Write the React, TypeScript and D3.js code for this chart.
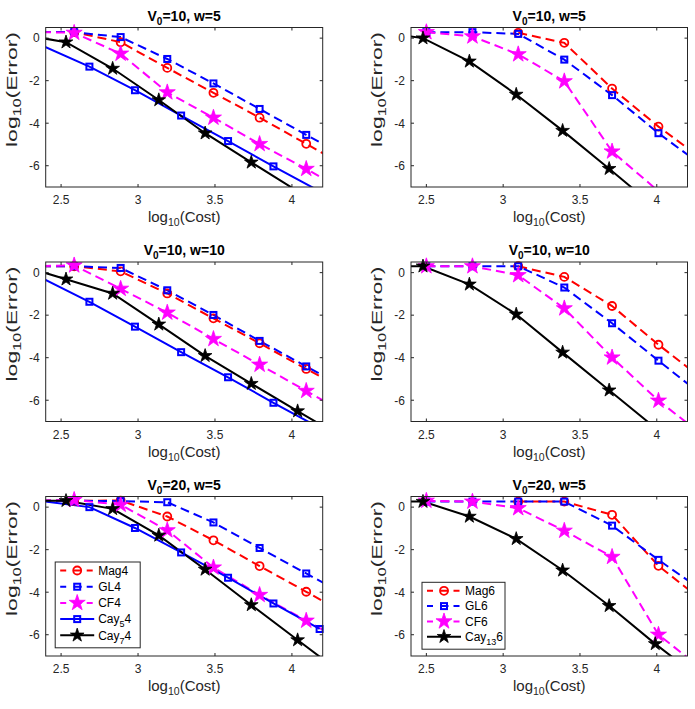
import * as d3 from "d3";

// log10(cost) positions for each integrator family
const costOrder4 = [2.285, 2.585, 2.887, 3.19, 3.49, 3.79, 4.093, 4.395];
const costCay5 = [2.383, 2.684, 2.98, 3.28, 3.585, 3.88, 4.18];
const costCay7 = [2.23, 2.532, 2.835, 3.135, 3.436, 3.736, 4.037, 4.34];
const costOrder6 = [2.5, 2.8, 3.098, 3.398, 3.709, 4.011, 4.31];
const costMag6 = [3.098, 3.398, 3.709, 4.011, 4.31];
const costCay13 = [2.178, 2.478, 2.78, 3.085, 3.387, 3.69, 3.99, 4.29];

// log10(error), V0=10, w=5
const mag4A = [0.3, 0.28, -0.19, -1.4, -2.57, -3.74, -4.97, -6.2];
const gl4A = [0.3, 0.28, 0.05, -0.98, -2.13, -3.33, -4.55, -5.75];
const cf4A = [0.3, 0.25, -0.73, -2.55, -3.74, -4.98, -6.15, -7.4];
const cay54A = [-0.37, -1.34, -2.45, -3.64, -4.84, -6.03, -7.2];
const cay74A = [0.18, -0.19, -1.43, -2.91, -4.47, -5.84, -7.2, -8.6];
const mag6A = [0.25, -0.22, -2.37, -4.16, -5.76];
const gl6A = [0.28, 0.28, 0.2, -1.01, -2.68, -4.47, -6.07];
const cf6A = [0.28, 0.08, -0.76, -2.03, -5.33, -7.2];
const cay136A = [0.3, 0.0, -1.09, -2.65, -4.35, -6.14, -7.95];

// log10(error), V0=10, w=10
const mag4B = [0.3, 0.3, 0.06, -0.98, -2.15, -3.32, -4.53, -5.7];
const gl4B = [0.3, 0.3, 0.22, -0.83, -1.99, -3.21, -4.41, -5.6];
const cf4B = [0.3, 0.34, -0.76, -1.88, -3.12, -4.33, -5.56, -6.8];
const cay54B = [-0.28, -1.37, -2.54, -3.74, -4.92, -6.12, -7.3];
const cay74B = [0.35, -0.31, -0.98, -2.43, -3.91, -5.22, -6.51, -7.8];
const mag6B = [0.3, -0.2, -1.57, -3.39, -5.07];
const gl6B = [0.3, 0.3, 0.3, -0.7, -2.38, -4.14, -5.85];
const cf6B = [0.3, 0.3, -0.12, -1.68, -3.99, -6.02, -7.7];
const cay136B = [0.3, 0.3, -0.55, -1.96, -3.75, -5.53, -7.3];

// log10(error), V0=20, w=5
const mag4C = [0.3, 0.3, 0.31, -0.44, -1.56, -2.77, -3.98, -5.2];
const gl4C = [0.3, 0.3, 0.28, 0.23, -0.72, -1.92, -3.12, -4.32];
const cf4C = [0.3, 0.34, 0.11, -1.09, -2.84, -4.13, -5.34, -6.55];
const cay54C = [0.28, 0.0, -0.98, -2.13, -3.32, -4.53, -5.73];
const cay74C = [0.3, 0.3, -0.08, -1.33, -2.93, -4.6, -6.25, -7.9];
const mag6C = [0.26, 0.26, -0.36, -2.76, -4.47];
const gl6C = [0.26, 0.26, 0.26, 0.26, -0.87, -2.48, -3.99];
const cf6C = [0.3, 0.26, -0.05, -1.11, -2.34, -6.0, -7.7];
const cay136C = [0.26, 0.26, -0.44, -1.49, -2.97, -4.64, -6.43, -8.1];

const xTicks = [2.5, 3, 3.5, 4];
const yTicks = [-6, -4, -2, 0];

const FONT = "'Liberation Sans', Arial, Helvetica, sans-serif";
const AX = "#262626";

type Marker = "circle" | "square" | "star";
interface Series {
  name: string;
  sub?: string;
  suffix?: string;
  color: string;
  dashed: boolean;
  marker: Marker;
  cost: number[];
  err: number[];
}

const mk = (
  name: string, color: string, dashed: boolean, marker: Marker,
  cost: number[], err: number[], sub?: string, suffix?: string
): Series => ({ name, color, dashed, marker, cost, err, sub, suffix });

const order4 = (mag: number[], gl: number[], cf: number[], c5: number[], c7: number[]) => [
  mk("Mag4", "#ff0000", true, "circle", costOrder4, mag),
  mk("GL4", "#0000ff", true, "square", costOrder4, gl),
  mk("CF4", "#ff00ff", true, "star", costOrder4, cf),
  mk("Cay", "#0000ff", false, "square", costCay5, c5, "5", "4"),
  mk("Cay", "#000000", false, "star", costCay7, c7, "7", "4"),
];

const order6 = (mag: number[], gl: number[], cf: number[], c13: number[]) => [
  mk("Mag6", "#ff0000", true, "circle", costMag6, mag),
  mk("GL6", "#0000ff", true, "square", costOrder6, gl),
  mk("CF6", "#ff00ff", true, "star", costOrder6, cf),
  mk("Cay", "#000000", false, "star", costCay13, c13, "13", "6"),
];

const panels = [
  { col: 0, row: 0, v0: 10, w: 5, series: order4(mag4A, gl4A, cf4A, cay54A, cay74A), legend: false },
  { col: 1, row: 0, v0: 10, w: 5, series: order6(mag6A, gl6A, cf6A, cay136A), legend: false },
  { col: 0, row: 1, v0: 10, w: 10, series: order4(mag4B, gl4B, cf4B, cay54B, cay74B), legend: false },
  { col: 1, row: 1, v0: 10, w: 10, series: order6(mag6B, gl6B, cf6B, cay136B), legend: false },
  { col: 0, row: 2, v0: 20, w: 5, series: order4(mag4C, gl4C, cf4C, cay54C, cay74C), legend: true },
  { col: 1, row: 2, v0: 20, w: 5, series: order6(mag6C, gl6C, cf6C, cay136C), legend: true },
];

const colLeft = [45.7, 411];
const colWidth = [277, 276.5];
const rowTop = [27.5, 262, 496.5];
const PH = 159.5;

function MarkerShape({ type, color, cx, cy }: { type: Marker; color: string; cx: number; cy: number }) {
  if (type === "circle") {
    return <circle cx={cx} cy={cy} r={4} fill="none" stroke={color} strokeWidth={1.8} />;
  }
  if (type === "square") {
    return <rect x={cx - 3} y={cy - 3} width={6} height={6} fill="none" stroke={color} strokeWidth={2} />;
  }
  const big = color !== "#000000";
  const path = d3.symbol().type(d3.symbolStar).size(big ? 80 : 58)() as string;
  return <path d={path} transform={`translate(${cx},${cy})`} fill={color} stroke={color} strokeWidth={0.8} />;
}

function Label({ s }: { s: Series }) {
  if (!s.sub) return <>{s.name}</>;
  return (
    <>
      {s.name}
      <tspan dy={4} fontSize={9}>{s.sub}</tspan>
      <tspan dy={-4}>{s.suffix}</tspan>
    </>
  );
}

function Panel({ p, idx }: { p: (typeof panels)[number]; idx: number }) {
  const left = colLeft[p.col];
  const top = rowTop[p.row];
  const pw = colWidth[p.col];
  const x = d3.scaleLinear().domain([2.4, 4.2]).range([0, pw]);
  const y = d3.scaleLinear().domain([-7, 0.5]).range([PH, 0]);
  const line = d3
    .line<[number, number]>()
    .x((d) => x(d[0]))
    .y((d) => y(d[1]));
  const clipId = `clip-${idx}`;

  const n = p.series.length;
  const lgX = p.col === 0 ? 9.5 : 11;
  const lgY = p.col === 0 ? 65.5 : 85.8;
  const lgW = p.col === 0 ? 85 : 83;
  const lgRowH = p.col === 0 ? 16.2 : 15.3;
  const lgH = 8.5 + (n - 1) * lgRowH + 12.5;

  return (
    <g transform={`translate(${left},${top})`}>
      <defs>
        <clipPath id={clipId}>
          <rect x={0} y={0} width={pw} height={PH} />
        </clipPath>
      </defs>

      {/* title */}
      <text x={pw / 2} y={-7} textAnchor="middle" fontWeight="bold" fontSize={14} fill="#000">
        V<tspan dy={4} fontSize={10}>0</tspan>
        <tspan dy={-4}>={p.v0}, w={p.w}</tspan>
      </text>

      {/* series */}
      <g clipPath={`url(#${clipId})`}>
        {p.series.map((s, i) => (
          <path
            key={i}
            d={line(s.cost.map((c, k) => [c, s.err[k]] as [number, number]).filter((d) => d[1] !== undefined)) || ""}
            fill="none"
            stroke={s.color}
            strokeWidth={2}
            strokeDasharray={s.dashed ? "9,5" : undefined}
          />
        ))}
      </g>
      {p.series.map((s, i) => (
        <g key={`m${i}`}>
          {s.cost.map((c, k) => {
            const v = s.err[k];
            if (v === undefined || c < 2.4 || c > 4.2 || v < -7 || v > 0.5) return null;
            return <MarkerShape key={k} type={s.marker} color={s.color} cx={x(c)} cy={y(v)} />;
          })}
        </g>
      ))}

      {/* box and ticks */}
      <rect x={0} y={0} width={pw} height={PH} fill="none" stroke={AX} strokeWidth={1} />
      {xTicks.map((t) => (
        <g key={`x${t}`}>
          <line x1={x(t)} x2={x(t)} y1={PH} y2={PH - 3} stroke={AX} />
          <line x1={x(t)} x2={x(t)} y1={0} y2={3} stroke={AX} />
          <text x={x(t)} y={PH + 17} textAnchor="middle" fontSize={12} fill={AX}>
            {d3.format("")(t)}
          </text>
        </g>
      ))}
      {yTicks.map((t) => (
        <g key={`y${t}`}>
          <line x1={0} x2={3} y1={y(t)} y2={y(t)} stroke={AX} />
          <line x1={pw} x2={pw - 3} y1={y(t)} y2={y(t)} stroke={AX} />
          <text x={-6} y={y(t) + 4.3} textAnchor="end" fontSize={12} fill={AX}>
            {t}
          </text>
        </g>
      ))}

      {/* axis labels */}
      <text x={pw / 2} y={PH + 35} textAnchor="middle" fontSize={15} fill={AX}>
        log<tspan dy={4} fontSize={10.5}>10</tspan>
        <tspan dy={-4}>(Cost)</tspan>
      </text>
      <text
        transform={`translate(${-29},${62}) rotate(-90)`}
        textAnchor="middle"
        fontSize={15}
        fill={AX}
        textLength={115}
        lengthAdjust="spacingAndGlyphs"
      >
        log<tspan dy={4} fontSize={10.5}>10</tspan>
        <tspan dy={-4}>(Error)</tspan>
      </text>

      {p.legend && (
        <g transform={`translate(${lgX},${lgY})`}>
          <rect x={0} y={0} width={lgW} height={lgH} fill="#fff" stroke={AX} strokeWidth={1} />
          {p.series.map((s, i) => {
            const cy = 8.5 + i * lgRowH;
            return (
              <g key={i}>
                <line x1={5} x2={39} y1={cy} y2={cy} stroke={s.color} strokeWidth={2} strokeDasharray={s.dashed ? "6,7.5,8,5" : undefined} />
                <MarkerShape type={s.marker} color={s.color} cx={22} cy={cy} />
                <text x={43} y={cy + 4.2} fontSize={12} fill="#000">
                  <Label s={s} />
                </text>
              </g>
            );
          })}
        </g>
      )}
    </g>
  );
}

export default function App() {
  return (
    <svg
      width={695}
      height={709}
      style={{ position: "absolute", left: 0, top: 0, background: "#fff" }}
      fontFamily={FONT}
    >
      <rect width={695} height={709} fill="#fff" />
      {panels.map((p, i) => (
        <Panel key={i} p={p} idx={i} />
      ))}
    </svg>
  );
}
